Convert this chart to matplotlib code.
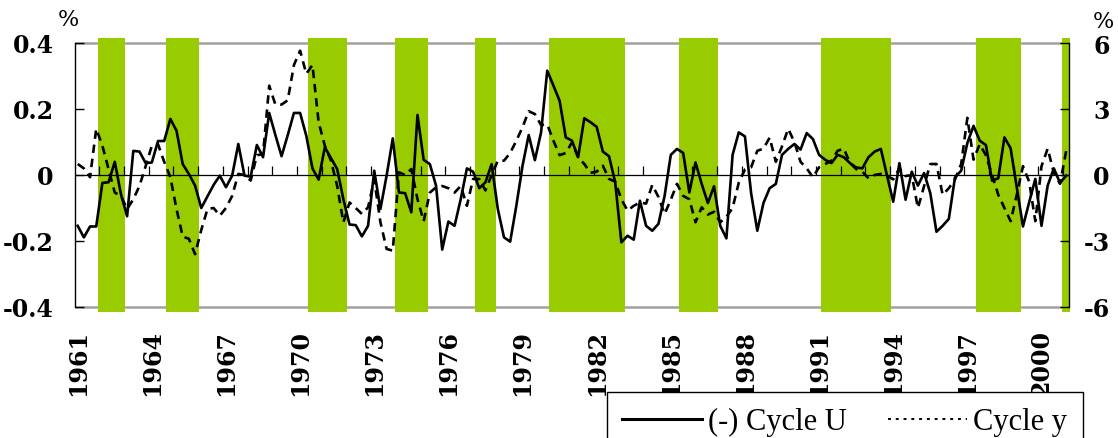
import numpy as np
import matplotlib
matplotlib.use("Agg")
import matplotlib.pyplot as plt
from matplotlib.lines import Line2D

# quarterly series, 1961Q1 - 2001Q1
first_year = 1961
cycle_u = [
    -0.154, -0.189, -0.156, -0.156, -0.024, -0.022, 0.040, -0.058, -0.125, 0.073,
    0.071, 0.036, 0.038, 0.103, 0.103, 0.170, 0.134, 0.033, 0.003, -0.032,
    -0.100, -0.065, -0.030, -0.002, -0.037, -0.002, 0.094, -0.002, -0.005, 0.091,
    0.054, 0.188, 0.121, 0.057, 0.121, 0.188, 0.188, 0.119, 0.020, -0.014,
    0.084, 0.051, 0.018, -0.073, -0.150, -0.152, -0.186, -0.154, 0.013, -0.103,
    -0.002, 0.111, -0.053, -0.055, -0.113, 0.182, 0.046, 0.033, -0.032, -0.226,
    -0.141, -0.154, -0.073, 0.020, 0.010, -0.040, -0.022, 0.033, -0.103, -0.189,
    -0.202, -0.093, 0.028, 0.121, 0.045, 0.129, 0.316, 0.271, 0.225, 0.114,
    0.104, 0.054, 0.172, 0.160, 0.146, 0.071, 0.057, -0.022, -0.204, -0.184,
    -0.196, -0.078, -0.154, -0.169, -0.148, -0.063, 0.061, 0.079, 0.067, -0.053,
    0.038, -0.027, -0.085, -0.034, -0.154, -0.192, 0.061, 0.129, 0.117, -0.055,
    -0.169, -0.085, -0.040, -0.027, 0.061, 0.079, 0.094, 0.077, 0.127, 0.109,
    0.061, 0.046, 0.036, 0.061, 0.054, 0.036, 0.023, 0.020, 0.054, 0.071,
    0.079, -0.002, -0.081, 0.036, -0.075, 0.010, -0.032, 0.006, -0.055, -0.172,
    -0.154, -0.133, -0.007, 0.013, 0.097, 0.149, 0.104, 0.091, -0.017, -0.010,
    0.114, 0.081, -0.037, -0.156, -0.083, -0.012, -0.154, -0.032, 0.020, -0.024,
    -0.002,
]
cycle_y = [
    0.5, 0.3, -0.1, 2.1, 1.33, 0.27, -0.8, -0.95, -1.55, -1.1,
    -0.5, 0.4, 1.33, 1.4, 0.6, -0.1, -1.55, -2.8, -2.9, -3.6,
    -2.5, -1.55, -1.5, -1.85, -1.5, -0.95, 0.05, 0.0, -0.25, 0.9,
    0.95, 4.06, 3.2, 3.2, 3.4, 5.0, 5.65, 4.6, 5.0, 2.4,
    1.33, 0.65, -0.5, -2.15, -1.25, -1.5, -1.77, -1.47, -0.2, -2.15,
    -3.36, -3.44, 0.12, 0.0, 0.27, -1.1, -2.1, -0.8, -0.56, -0.5,
    -0.6, -0.8, -0.5, -1.4, -0.18, -0.18, -0.7, 0.0, 0.65, 0.65,
    1.0, 1.56, 2.17, 2.9, 2.77, 2.27, 2.3, 1.56, 0.9, 1.0,
    1.48, 0.8, 0.5, 0.1, 0.15, 0.42, -0.18, -0.3, -1.1, -1.62,
    -1.4, -1.25, -1.3, -0.45, -1.0, -1.77, -1.12, -0.4, -0.95, -1.1,
    -2.15, -1.47, -1.8, -1.67, -2.15, -1.9, -1.5, -0.35, 0.25, 0.35,
    1.1, 1.2, 1.7, 0.6, 1.3, 2.1, 1.5, 0.6, 0.3, -0.1,
    0.35, 0.5, 0.65, 1.1, 1.2, 0.55, 0.27, 0.15, -0.15, 0.0,
    0.05, -0.03, -0.2, 0.3, -0.05, 0.0, -1.5, -0.5, 0.5, 0.5,
    -0.9, -0.6, -0.2, 0.5, 2.6, 0.7, 1.4, 0.9, 0.0, -0.9,
    -1.5, -2.1, -0.9, 0.4, -0.3, -2.1, 0.4, 1.2, 0.1, -0.4,
    1.1,
]

# shaded phases (first and last quarter, inclusive)
phases = [
    ("1962Q1", "1962Q4"), ("1964Q4", "1965Q4"), ("1970Q3", "1971Q4"),
    ("1974Q1", "1975Q1"), ("1977Q2", "1977Q4"), ("1980Q2", "1983Q1"),
    ("1985Q3", "1986Q4"), ("1991Q2", "1993Q4"), ("1997Q3", "1999Q1"),
    ("2001Q1", "2001Q1"),
]

year_labels = [str(y) for y in range(1961, 2001, 3)]
left_ticks = [-0.4, -0.2, 0, 0.2, 0.4]
left_ticklabels = ["-0.4", "-0.2", "0", "0.2", "0.4"]
right_ticks = [-6, -3, 0, 3, 6]
right_ticklabels = ["-6", "-3", "0", "3", "6"]

GREEN = "#99cc00"
tick_font = dict(family="DejaVu Serif", weight="bold", size=17)


def qindex(label):
    year, q = label.split("Q")
    return (int(year) - first_year) * 4 + int(q) - 1


n = len(cycle_u)
x = np.arange(n) + 0.5

fig = plt.figure(figsize=(11.18, 4.39), dpi=100)
W, H = 1118, 439
ax = fig.add_axes([74.6 / W, 1 - 308 / H, (1069.3 - 74.6) / W, 264 / H])
ax.set_xlim(0, n)
ax.set_ylim(-0.4, 0.4)

for a, b in phases:
    span = ax.axvspan(qindex(a) - 0.15, qindex(b) + 1.15, ymin=-0.019, ymax=1.019,
                      color=GREEN, lw=0, zorder=1)
    span.set_clip_on(False)

ax.hlines([-0.4, 0.4], 0, n, colors="#a0a0a0", lw=1.8, zorder=0.8, clip_on=False)
ax.axhline(0, color="black", lw=0.9, zorder=2)
ax.vlines(np.arange(4, n, 4), 0, 0.027, colors="black", lw=0.9, zorder=2)

ax.plot(x, cycle_u, color="black", lw=1.9, zorder=3)

for s in ("top", "bottom", "right"):
    ax.spines[s].set_visible(False)
ax.spines["left"].set_linewidth(1.0)

ax.set_yticks(left_ticks)
ax.set_yticklabels(left_ticklabels, fontdict=tick_font)
ax.tick_params(axis="y", direction="in", length=6.5, width=1.0, pad=15)

ax.set_xticks(np.arange(0, n, 12) + 0.5)
ax.set_xticklabels(year_labels, rotation=90, fontdict=tick_font)
ax.tick_params(axis="x", length=0, pad=16)

ax2 = ax.twinx()
ax2.set_ylim(-6, 6)
ax2.plot(x, cycle_y, color="black", lw=1.9, linestyle=(0, (3.2, 2.2)), zorder=3)
for s in ("top", "bottom", "left"):
    ax2.spines[s].set_visible(False)
ax2.spines["right"].set_linewidth(1.0)
ax2.set_yticks(right_ticks)
ax2.set_yticklabels(right_ticklabels, fontdict=tick_font)
ax2.tick_params(axis="y", direction="in", length=6.5, width=1.0, pad=29)
for lbl in ax2.get_yticklabels():
    lbl.set_horizontalalignment("right")

fig.text(68 / W, 1 - 20 / H, "%", family="DejaVu Serif", size=16, ha="center", va="center")
fig.text(1103 / W, 1 - 22 / H, "%", family="DejaVu Serif", size=16, ha="center", va="center")

handles = [
    Line2D([], [], color="black", lw=2.2),
    Line2D([], [], color="black", lw=1.4, linestyle=(0, (1.5, 2.5))),
]
leg = fig.legend(handles, ["(-) Cycle U", "Cycle y"], ncol=2, loc="upper left",
                 bbox_to_anchor=(607 / W, 1 - 393 / H), borderaxespad=0,
                 prop=dict(family="Liberation Serif", size=22),
                 handlelength=2.6, handletextpad=0.2, columnspacing=1.35,
                 fancybox=False, edgecolor="black", framealpha=1, borderpad=0.5)
leg.get_frame().set_linewidth(1.0)

fig.savefig("out.png", dpi=100)
